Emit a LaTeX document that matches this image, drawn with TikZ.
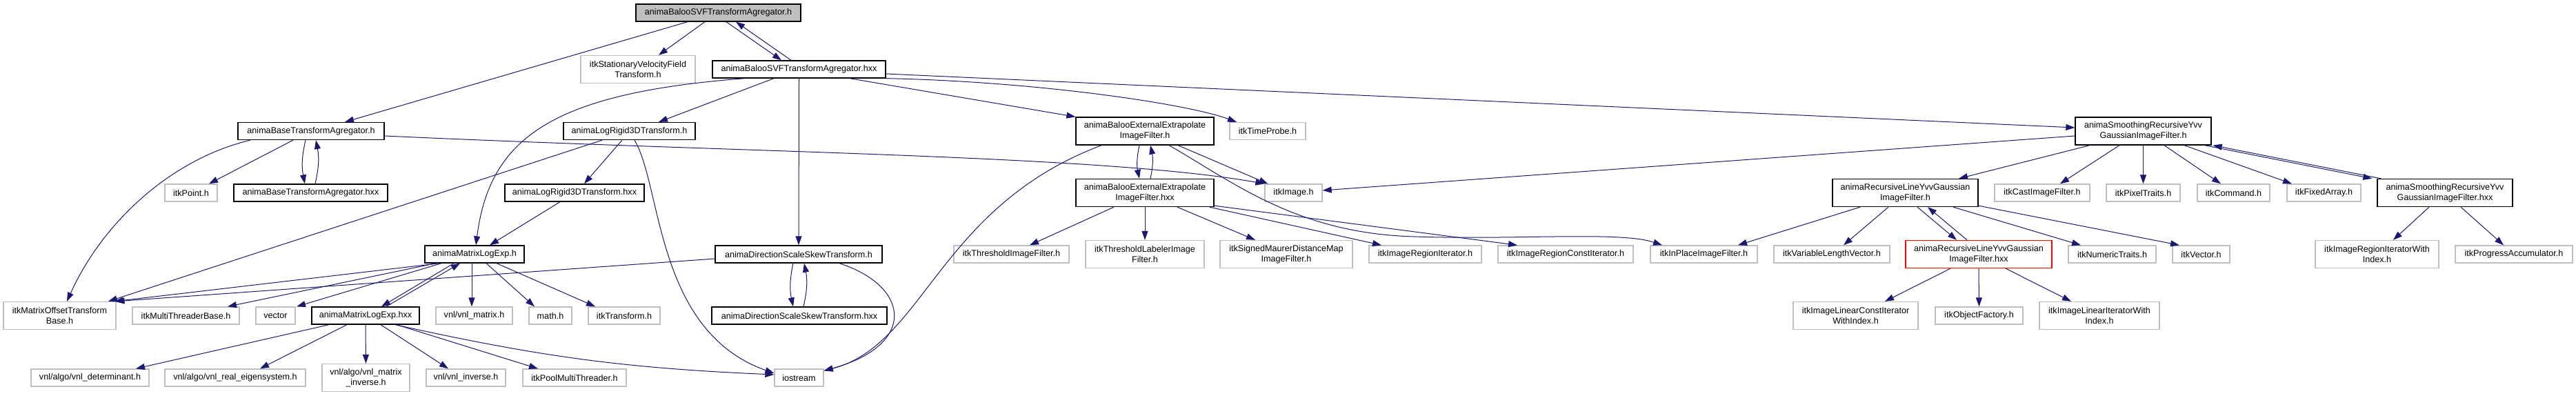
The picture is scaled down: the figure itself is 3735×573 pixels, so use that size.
\documentclass[tikz,border=0pt]{standalone}
\usepackage{fontspec}
\setmainfont{Liberation Sans}
\usetikzlibrary{arrows.meta}
\definecolor{edgec}{HTML}{191970}
\definecolor{extc}{HTML}{BFBFBF}
\definecolor{curc}{HTML}{BFBFBF}
\tikzset{
  nd/.style={draw,rectangle,line width=1.3pt,inner sep=0pt,align=center,minimum height=25pt,font=\fontsize{12.6}{14.6}\selectfont},
  hbox/.style={nd,draw=black},
  sbox/.style={nd,draw=extc},
  cbox/.style={nd,draw=black,fill=curc},
  rbox/.style={nd,draw=red},
  tall/.style={minimum height=40pt},
  dep/.style={-{Triangle[length=13pt,width=9pt]},line width=1pt,edgec}
}
\begin{document}
\begin{tikzpicture}[x=1pt,y=-1pt]
\useasboundingbox (0,0) rectangle (3735,573);
% rank 0 and 1
\node[cbox,minimum width=239pt] (main) at (1041.5,18.5) {animaBalooSVFTransformAgregator.h};
\node[sbox,tall,minimum width=166pt] (svfv) at (925,100.5) {itkStationaryVelocityField\\Transform.h};
\node[hbox,minimum width=251pt] (svfx) at (1158.5,100.5) {animaBalooSVFTransformAgregator.hxx};
% rank 2
\node[hbox,minimum width=212pt] (baseh) at (451,190) {animaBaseTransformAgregator.h};
\node[hbox,minimum width=191pt] (logh) at (912.5,190) {animaLogRigid3DTransform.h};
\node[hbox,tall,minimum width=200pt] (exth) at (1660,190) {animaBalooExternalExtrapolate\\ImageFilter.h};
\node[sbox,minimum width=110pt] (probe) at (1838,190) {itkTimeProbe.h};
\node[hbox,tall,minimum width=197pt] (smoothh) at (3107.5,190) {animaSmoothingRecursiveYvv\\GaussianImageFilter.h};
% rank 3
\node[sbox,minimum width=76pt] (point) at (277,279.5) {itkPoint.h};
\node[hbox,minimum width=223pt] (basex) at (450.5,279.5) {animaBaseTransformAgregator.hxx};
\node[hbox,minimum width=202pt] (logx) at (833,279.5) {animaLogRigid3DTransform.hxx};
\node[hbox,tall,minimum width=200pt] (extx) at (1660,279.5) {animaBalooExternalExtrapolate\\ImageFilter.hxx};
\node[sbox,minimum width=83pt] (image) at (1875.5,279.5) {itkImage.h};
\node[hbox,tall,minimum width=211pt] (recurh) at (2762.5,279.5) {animaRecursiveLineYvvGaussian\\ImageFilter.h};
\node[sbox,minimum width=138pt] (cast) at (2961,279.5) {itkCastImageFilter.h};
\node[sbox,minimum width=107pt] (pixel) at (3107.5,279.5) {itkPixelTraits.h};
\node[sbox,minimum width=105pt] (command) at (3238.5,279.5) {itkCommand.h};
\node[sbox,minimum width=107pt] (fixed) at (3369.5,279.5) {itkFixedArray.h};
\node[hbox,tall,minimum width=196pt] (smoothx) at (3545,279.5) {animaSmoothingRecursiveYvv\\GaussianImageFilter.hxx};
% rank 4
\node[hbox,minimum width=144pt] (mlogh) at (688,368.5) {animaMatrixLogExp.h};
\node[hbox,minimum width=242pt] (dssh) at (1158,368.5) {animaDirectionScaleSkewTransform.h};
\node[sbox,minimum width=167pt] (thresh) at (1466.5,368.5) {itkThresholdImageFilter.h};
\node[sbox,tall,minimum width=172pt] (labeler) at (1660,368.5) {itkThresholdLabelerImage\\Filter.h};
\node[sbox,tall,minimum width=192pt] (maurer) at (1865,368.5) {itkSignedMaurerDistanceMap\\ImageFilter.h};
\node[sbox,minimum width=163pt] (regit) at (2066.5,368.5) {itkImageRegionIterator.h};
\node[sbox,minimum width=196pt] (regcit) at (2270,368.5) {itkImageRegionConstIterator.h};
\node[sbox,minimum width=155pt] (inplace) at (2470.5,368.5) {itkInPlaceImageFilter.h};
\node[sbox,minimum width=168pt] (varlen) at (2656,368.5) {itkVariableLengthVector.h};
\node[rbox,tall,minimum width=212pt] (recurx) at (2869,368.5) {animaRecursiveLineYvvGaussian\\ImageFilter.hxx};
\node[sbox,minimum width=127pt] (numtr) at (3062.5,368.5) {itkNumericTraits.h};
\node[sbox,minimum width=83pt] (vec) at (3191.5,368.5) {itkVector.h};
\node[sbox,tall,minimum width=179pt] (regitidx) at (3446.5,368.5) {itkImageRegionIteratorWith\\Index.h};
\node[sbox,minimum width=170pt] (progress) at (3645,368.5) {itkProgressAccumulator.h};
% rank 5
\node[sbox,tall,minimum width=163pt] (motb) at (86.5,457.5) {itkMatrixOffsetTransform\\Base.h};
\node[sbox,minimum width=155pt] (mtb) at (269.5,457.5) {itkMultiThreaderBase.h};
\node[sbox,minimum width=57pt] (stdvec) at (399.5,457.5) {vector};
\node[hbox,minimum width=156pt] (mlogx) at (530,457.5) {animaMatrixLogExp.hxx};
\node[sbox,minimum width=111pt] (vnlmat) at (687.5,457.5) {vnl/vnl\_matrix.h};
\node[sbox,minimum width=62pt] (math) at (798,457.5) {math.h};
\node[sbox,minimum width=104pt] (transf) at (905,457.5) {itkTransform.h};
\node[hbox,minimum width=254pt] (dssx) at (1159,457.5) {animaDirectionScaleSkewTransform.hxx};
\node[sbox,tall,minimum width=181pt] (lincit) at (2690.5,457.5) {itkImageLinearConstIterator\\WithIndex.h};
\node[sbox,minimum width=127pt] (objf) at (2869.5,457.5) {itkObjectFactory.h};
\node[sbox,tall,minimum width=174pt] (linit) at (3044,457.5) {itkImageLinearIteratorWith\\Index.h};
% rank 6
\node[sbox,minimum width=171pt] (det) at (130.5,547.5) {vnl/algo/vnl\_determinant.h};
\node[sbox,minimum width=204pt] (eig) at (341,547.5) {vnl/algo/vnl\_real\_eigensystem.h};
\node[sbox,tall,minimum width=127pt] (matinv) at (530.5,547.5) {vnl/algo/vnl\_matrix\\\_inverse.h};
\node[sbox,minimum width=115pt] (vnlinv) at (675.5,547.5) {vnl/vnl\_inverse.h};
\node[sbox,minimum width=150pt] (pool) at (833,547.5) {itkPoolMultiThreader.h};
\node[sbox,minimum width=71pt] (iostr) at (1158.5,547.5) {iostream};

% main header
\draw[dep] ([xshift=-44.5pt]main.south) -- ([xshift=49pt]baseh.north);
\draw[dep] ([xshift=-19.5pt]main.south) -- ([xshift=30pt]svfv.north);
\draw[dep] ([xshift=11.5pt]main.south) -- ([xshift=-25.5pt]svfx.north);
\draw[dep] ([xshift=-11.5pt]svfx.north) -- ([xshift=25.5pt]main.south);
% agregator hxx
\draw[dep] ([xshift=-78.5pt]svfx.south) .. controls (800,135) and (710,200) .. ([xshift=2pt]mlogh.north);
\draw[dep] ([xshift=-36.5pt]svfx.south) -- ([xshift=42.5pt]logh.north);
\draw[dep] (svfx.south) -- (dssh.north);
\draw[dep] ([xshift=73.5pt]svfx.south) -- (exth.north west);
\draw[dep] (svfx.south east) .. controls (1500,118) and (1720,150) .. ([xshift=-45pt]probe.north);
\draw[dep] ([yshift=-6.5pt]svfx.east) -- ([yshift=5pt]smoothh.west);
% base agregator
\draw[dep] ([xshift=-88pt]baseh.south) .. controls (250,230) and (150,320) .. ([xshift=10.5pt]motb.north);
\draw[dep] ([xshift=-26pt]baseh.south) -- ([xshift=26pt]point.north);
\draw[dep] ([xshift=-8pt]baseh.south) to[bend right=12] ([xshift=-8.5pt]basex.north);
\draw[dep] ([xshift=6.5pt]basex.north) to[bend right=12] ([xshift=7pt]baseh.south);
\draw[dep] ([yshift=-7pt]baseh.east) .. controls (1100,222) and (1600,225) .. (image.north west);
% log rigid
\draw[dep] ([xshift=-39.5pt]logh.south) -- ([xshift=70.5pt]motb.north);
\draw[dep] ([xshift=-10.5pt]logh.south) -- ([xshift=14pt]logx.north);
\draw[dep] ([xshift=7.5pt]logh.south) .. controls (960,270) and (950,480) .. ([yshift=6.5pt]iostr.west);
\draw[dep] ([xshift=-21pt]logx.south) -- ([xshift=22pt]mlogh.north);
% matrix log exp
\draw[dep] ([xshift=-51pt]mlogh.south) -- ([xshift=-3pt]motb.north east);
\draw[dep] ([xshift=-56pt]mlogh.south) -- ([xshift=60.5pt]mtb.north);
\draw[dep] ([xshift=-48pt]mlogh.south) -- ([xshift=30.5pt]stdvec.north);
\draw[dep] ([xshift=-30pt]mlogh.south) -- ([xshift=23pt]mlogx.north);
\draw[dep] ([xshift=30pt]mlogx.north) -- ([xshift=-21pt]mlogh.south);
\draw[dep] ([xshift=-4pt]mlogh.south) -- ([xshift=-3.5pt]vnlmat.north);
\draw[dep] ([xshift=17pt]mlogh.south) -- ([xshift=-23pt]math.north);
\draw[dep] ([xshift=32pt]mlogh.south) -- ([xshift=-42pt]transf.north);
\draw[dep] ([xshift=-53pt]mlogx.south) -- ([xshift=66.5pt]det.north);
\draw[dep] ([xshift=-27pt]mlogx.south) -- ([xshift=36pt]eig.north);
\draw[dep] (mlogx.south) -- (matinv.north);
\draw[dep] ([xshift=22pt]mlogx.south) -- ([xshift=-25.5pt]vnlinv.north);
\draw[dep] ([xshift=45pt]mlogx.south) -- ([xshift=-53pt]pool.north);
\draw[dep] ([xshift=43pt]mlogx.south) to[bend right=5] ([yshift=4.5pt]iostr.west);
% direction scale skew
\draw[dep] ([yshift=-6.5pt]dssh.west) -- ([xshift=-1pt]motb.north east);
\draw[dep] ([xshift=-8pt]dssh.south) to[bend right=12] ([xshift=-9pt]dssx.north);
\draw[dep] ([xshift=6pt]dssx.north) to[bend right=12] ([xshift=8pt]dssh.south);
\draw[dep] ([xshift=59pt]dssh.south) .. controls (1320,415) and (1330,500) .. ([yshift=-3pt]iostr.north east);
% external extrapolate
\draw[dep] ([xshift=-63pt]exth.south) .. controls (1360,300) and (1340,500) .. ([yshift=-3pt]iostr.north east);
\draw[dep] ([xshift=-8pt]exth.south) to[bend right=12] ([xshift=-8pt]extx.north);
\draw[dep] ([xshift=8pt]extx.north) to[bend right=12] ([xshift=8pt]exth.south);
\draw[dep] ([xshift=48pt]exth.south) -- ([xshift=5pt]image.north west);
\draw[dep] ([xshift=35pt]exth.south) .. controls (1790,265) and (1880,338) .. (2050,343)
  .. controls (2200,348) and (2350,335) .. ([xshift=-60.5pt]inplace.north);
\draw[dep] ([xshift=-7pt]extx.south east) -- ([xshift=-63.5pt]regit.north);
\draw[dep] ([yshift=2pt]extx.south east) -- ([xshift=-70pt]regcit.north);
\draw[dep] ([xshift=-45pt]extx.south) -- ([xshift=26.5pt]thresh.north);
\draw[dep] (extx.south) -- (labeler.north);
\draw[dep] ([xshift=47pt]extx.south) -- ([xshift=-45pt]maurer.north);
% smoothing filter
\draw[dep] ([xshift=-77.5pt]smoothh.south) -- ([xshift=77.5pt]recurh.north);
\draw[dep] ([xshift=-34.5pt]smoothh.south) -- ([xshift=26pt]cast.north);
\draw[dep] (smoothh.south) -- (pixel.north);
\draw[dep] ([xshift=30.5pt]smoothh.south) -- ([xshift=-18.5pt]command.north);
\draw[dep] ([xshift=59.5pt]smoothh.south) -- ([xshift=-46.5pt]fixed.north);
\draw[dep] ([xshift=-10pt]smoothh.south east) -- ([xshift=-7pt]smoothx.north west);
\draw[dep] ([xshift=6pt]smoothx.north west) -- ([xshift=2pt]smoothh.south east);
\draw[dep] ([yshift=-7pt]smoothh.west) -- ([yshift=3.5pt]image.east);
\draw[dep] ([xshift=-23pt]smoothx.south) -- ([xshift=23.5pt]regitidx.north);
\draw[dep] ([xshift=23pt]smoothx.south) -- ([xshift=-15pt]progress.north);
% recursive line filter
\draw[dep] ([xshift=-65.5pt]recurh.south) -- ([xshift=49.5pt]inplace.north);
\draw[dep] ([xshift=-24.5pt]recurh.south) -- ([xshift=17pt]varlen.north);
\draw[dep] ([xshift=17.5pt]recurh.south) -- ([xshift=-32pt]recurx.north);
\draw[dep] ([xshift=-17pt]recurx.north) -- ([xshift=32.5pt]recurh.south);
\draw[dep] ([xshift=69.5pt]recurh.south) -- ([xshift=-45.5pt]numtr.north);
\draw[dep] ([yshift=2pt]recurh.south east) -- ([xshift=-31.5pt]vec.north);
\draw[dep] ([xshift=-41pt]recurx.south) -- ([xshift=42.5pt]lincit.north);
\draw[dep] (recurx.south) -- (objf.north);
\draw[dep] ([xshift=39pt]recurx.south) -- ([xshift=-41pt]linit.north);
\end{tikzpicture}
\end{document}
